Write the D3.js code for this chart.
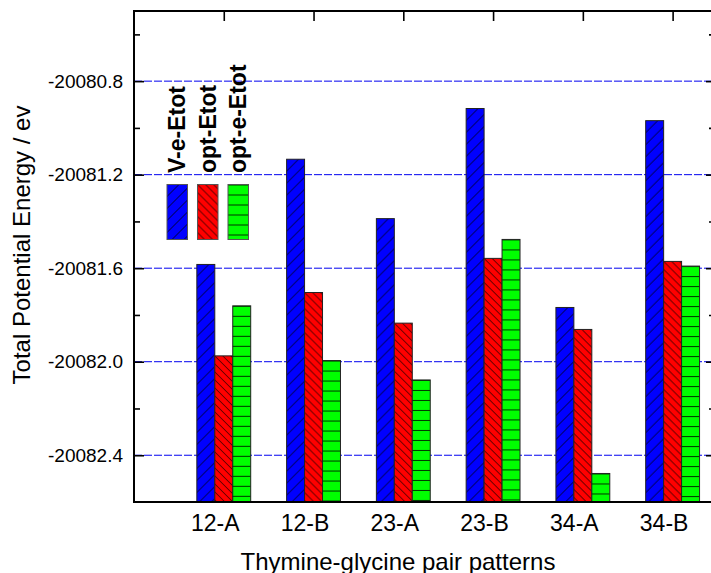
<!DOCTYPE html>
<html>
<head>
<meta charset="utf-8">
<script src="https://cdn.jsdelivr.net/npm/d3@7"></script>
<style>
  body { margin: 0; background: #fff; }
  svg { display: block; font-family: "Liberation Sans", Arial, sans-serif; }
</style>
</head>
<body>
<svg id="chart" width="711" height="573"></svg>
<script>
// Total potential energy for thymine-glycine pair patterns

const categories = ["12-A", "12-B", "23-A", "23-B", "34-A", "34-B"];
const seriesNames = ["V-e-Etot", "opt-Etot", "opt-e-Etot"];
const vEEtot = [-20081.584, -20081.134, -20081.388, -20080.917, -20081.768, -20080.969];
const optEtot = [-20081.975, -20081.704, -20081.835, -20081.558, -20081.862, -20081.571];
const optEEtot = [-20081.761, -20081.995, -20082.078, -20081.477, -20082.478, -20081.591];
const majorTicks = [-20080.8, -20081.2, -20081.6, -20082.0, -20082.4];
const minorTicks = [-20080.6, -20081.0, -20081.4, -20081.8, -20082.2];

const series = [vEEtot, optEtot, optEEtot];
const colors = ["#0000ff", "#ff0000", "#00ff00"];
const hatches = ["fwd", "back", "horiz"];

const svg = d3.select("#chart");
const defs = svg.append("defs");

const plotLeft = 134, plotRight = 714, plotTop = 11, plotBottom = 502;

const x = d3.scaleLinear().domain([0, 6.461]).range([plotLeft, plotRight]);
const y = d3.scaleLinear().domain([-20082.6, -20080.5]).range([plotBottom, plotTop]);
const barW = 0.2;

// one pattern per bar so the hatch starts at the bar's top-left corner
function makePattern(id, kind, color, ox, oy) {
  const p = defs.append("pattern")
    .attr("id", id)
    .attr("patternUnits", "userSpaceOnUse")
    .attr("x", ox).attr("y", oy);
  let w, h;
  if (kind === "fwd") { w = 12; h = 12; }
  else if (kind === "back") { w = 8; h = 8; }
  else { w = 10; h = 10; }
  p.attr("width", w).attr("height", h);
  p.append("rect").attr("width", w).attr("height", h).attr("fill", color);
  const add = (x1, y1, x2, y2) => {
    p.append("line")
      .attr("x1", x1).attr("y1", y1).attr("x2", x2).attr("y2", y2)
      .attr("stroke", "#000").attr("stroke-width", 0.8);
  };
  if (kind === "fwd") {
    add(-w, h, w, -h); add(0, 2 * h, 2 * w, 0); add(0, h, w, 0);
  } else if (kind === "back") {
    add(0, 0, w, h); add(-w, 0, 0, h); add(w, 0, 2 * w, h);
  } else {
    add(0, 0.5, w, 0.5);
  }
  return `url(#${id})`;
}

// gridlines
svg.append("g").selectAll("line")
  .data(majorTicks)
  .enter()
  .append("line")
  .attr("x1", plotLeft).attr("x2", plotRight)
  .attr("y1", d => y(d)).attr("y2", d => y(d))
  .attr("stroke", "#0000f0")
  .attr("stroke-width", 1)
  .attr("stroke-dasharray", "8,2");

// bars
const bars = svg.append("g");
categories.forEach((cat, i) => {
  series.forEach((vals, k) => {
    const x0 = x(i + 1 - 1.5 * barW + k * barW);
    const x1 = x(i + 1 - 1.5 * barW + (k + 1) * barW);
    const yt = y(vals[i]);
    const fill = makePattern(`p${i}_${k}`, hatches[k], colors[k], x0, yt);
    bars.append("rect")
      .attr("x", x0).attr("y", yt)
      .attr("width", x1 - x0)
      .attr("height", y.range()[0] - yt)
      .attr("fill", fill)
      .attr("stroke", "#222")
      .attr("stroke-width", 1);
  });
});

// axes
const noLabel = () => "";
const yLeft = svg.append("g").attr("transform", `translate(${plotLeft},0)`)
  .call(d3.axisLeft(y).tickValues(majorTicks).tickSizeInner(-10).tickSizeOuter(0)
    .tickPadding(11).tickFormat(d => d.toFixed(1)));
yLeft.selectAll("text").style("font-size", "19px").attr("fill", "#000");
svg.append("g").attr("transform", `translate(${plotLeft},0)`)
  .call(d3.axisLeft(y).tickValues(minorTicks).tickSizeInner(-6).tickSizeOuter(0).tickFormat(noLabel));
svg.append("g").attr("transform", `translate(${plotRight},0)`)
  .call(d3.axisRight(y).tickValues(majorTicks).tickSizeInner(-8).tickSizeOuter(0).tickFormat(noLabel));
svg.append("g").attr("transform", `translate(${plotRight},0)`)
  .call(d3.axisRight(y).tickValues(minorTicks).tickSizeInner(-5).tickSizeOuter(0).tickFormat(noLabel));
svg.append("g").attr("transform", `translate(0,${plotTop})`)
  .call(d3.axisTop(x).tickValues(d3.range(1, categories.length + 1)).tickSizeInner(-10).tickSizeOuter(0).tickFormat(noLabel));

const xBottom = svg.append("g").attr("transform", `translate(0,${plotBottom})`)
  .call(d3.axisBottom(x).tickValues(d3.range(1, categories.length + 1)).tickSize(0).tickPadding(13)
    .tickFormat(d => categories[d - 1]));
xBottom.selectAll("text").style("font-size", "23px").attr("fill", "#000").attr("dx", -9);

svg.selectAll(".domain").remove();
svg.selectAll(".tick line").attr("stroke", "#000").attr("stroke-width", 1.6);
svg.selectAll(".tick text").style("font-family", "'Liberation Sans', Arial, sans-serif");

// frame
svg.append("rect")
  .attr("x", plotLeft).attr("y", plotTop)
  .attr("width", plotRight - plotLeft).attr("height", plotBottom - plotTop)
  .attr("fill", "none").attr("stroke", "#000").attr("stroke-width", 2);

// axis titles
svg.append("text")
  .attr("transform", "translate(30,245) rotate(-90)")
  .attr("text-anchor", "middle")
  .style("font-size", "24px")
  .text("Total Potential Energy / ev");

svg.append("text")
  .attr("x", 398).attr("y", 570)
  .attr("text-anchor", "middle")
  .style("font-size", "24px")
  .text("Thymine-glycine pair patterns");

// legend
const legendX = [167, 197.5, 228];
seriesNames.forEach((name, k) => {
  const fill = makePattern(`leg${k}`, hatches[k], colors[k], legendX[k], 184.5);
  svg.append("rect")
    .attr("x", legendX[k]).attr("y", 184.5)
    .attr("width", 20.5).attr("height", 55)
    .attr("fill", fill)
    .attr("stroke", "#555").attr("stroke-width", 1);
  svg.append("text")
    .attr("transform", `translate(${legendX[k] + 18},173) rotate(-90)`)
    .style("font-size", "23px")
    .style("font-weight", "bold")
    .text(name);
});
</script>
</body>
</html>
